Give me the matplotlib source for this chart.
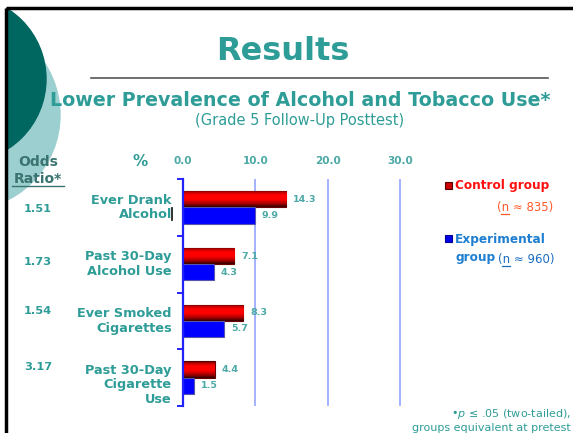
import numpy as np
import matplotlib.pyplot as plt
from matplotlib.patches import Circle, Rectangle
from matplotlib.colors import LinearSegmentedColormap

W, H = 573, 433

categories = ["Ever Drank\nAlcohol", "Past 30-Day\nAlcohol Use",
              "Ever Smoked\nCigarettes", "Past 30-Day\nCigarette\nUse"]
control = [14.3, 7.1, 8.3, 4.4]
experimental = [9.9, 4.3, 5.7, 1.5]
odds_ratio = ["1.51", "1.73", "1.54", "3.17"]
x_ticks = [0, 10, 20, 30]

teal = '#2e9c97'
teal_light = '#4aa8a6'
teal_dark = '#3a7470'


def fx(x):
    return x / W


def fy(y):
    return 1 - y / H


fig = plt.figure(figsize=(W / 100, H / 100), dpi=100)
fig.patch.set_facecolor('white')

# slide background decoration
bg = fig.add_axes([0, 0, 1, 1])
bg.set_xlim(0, W)
bg.set_ylim(H, 0)
bg.axis('off')
clip = Rectangle((6, 8), W, H, transform=bg.transData, visible=False)
bg.add_patch(clip)
c2 = Circle((-35, 115), 95, color='#9ccfcf', zorder=1)
c1 = Circle((-37, 79), 83, color='#006660', zorder=2)
for c in (c2, c1):
    bg.add_patch(c)
    c.set_clip_path(clip)
bg.plot([6, W], [8, 8], color='black', lw=2.5, zorder=5, solid_capstyle='butt')
bg.plot([6, 6], [8, H], color='black', lw=2.5, zorder=5, solid_capstyle='butt')
bg.plot([91, 548], [78, 78], color='#555555', lw=1.2, zorder=5)

fig.text(fx(283), fy(51), "Results", color=teal, fontsize=23, fontweight='bold',
         ha='center', va='center')
fig.text(fx(300), fy(101), "Lower Prevalence of Alcohol and Tobacco Use*", color=teal,
         fontsize=13.7, fontweight='bold', ha='center', va='center', zorder=10)
fig.text(fx(300), fy(121), "(Grade 5 Follow-Up Posttest)", color=teal,
         fontsize=10.5, ha='center', va='center')

# chart
ppu = 7.23
x0, top, bot = 183, 179, 406
xmax = 35
ax = fig.add_axes([fx(x0), fy(bot), xmax * ppu / W, (bot - top) / H])
ax.set_facecolor('none')
ax.set_xlim(0, xmax)
ax.set_ylim(len(categories) - 0.5, -0.5)

ypos = np.arange(len(categories))
bh = 0.285
red_bars = ax.barh(ypos - bh / 2, control, height=bh, color='#ff0000',
                   edgecolor='#6b0000', lw=0.8, zorder=3)
blue_bars = ax.barh(ypos + bh / 2, experimental, height=bh, color='#0000ff',
                    edgecolor='#5555aa', lw=0.8, zorder=3)

cmap = LinearSegmentedColormap.from_list('redbar', [
    (0.0, '#3a0000'), (0.12, '#c00000'), (0.3, '#ff0000'), (0.55, '#ff0000'),
    (0.8, '#a80000'), (1.0, '#300000')])
grad = np.linspace(0, 1, 64).reshape(-1, 1)
for p in red_bars:
    x, y = p.get_x(), p.get_y()
    w, h = p.get_width(), p.get_height()
    im = ax.imshow(grad, cmap=cmap, aspect='auto', extent=(x, x + w, y + h, y),
                   zorder=3.5, interpolation='bilinear')
    im.set_clip_path(p)

for bars, vals in ((red_bars, control), (blue_bars, experimental)):
    for p, v in zip(bars, vals):
        ax.annotate(f"{v:.1f}", (v, p.get_y() + p.get_height() / 2),
                    xytext=(5, 0), textcoords='offset points', va='center', ha='left',
                    color=teal_light, fontsize=6.8, fontweight='bold', zorder=6)

ax.set_ylim(len(categories) - 0.5, -0.5)
ax.set_xlim(0, xmax)

for s in ('top', 'right', 'bottom'):
    ax.spines[s].set_visible(False)
ax.spines['left'].set_color('#2222ff')
ax.spines['left'].set_linewidth(1.6)
ax.spines['left'].set_zorder(5)

ax.set_yticks(np.arange(len(categories) + 1) - 0.5)
ax.set_yticklabels([])
ax.tick_params(axis='y', direction='out', length=4, width=1.4, color='#2222ff')

ax.set_xticks(x_ticks)
ax.set_xticklabels([f"{t:.1f}" for t in x_ticks])
ax.xaxis.tick_top()
ax.tick_params(axis='x', length=0, pad=9, labelsize=7.5, labelcolor=teal_light)
for lab in ax.get_xticklabels():
    lab.set_fontweight('bold')
for t in x_ticks[1:]:
    ax.axvline(t, color='#95a5ff', lw=1.2, zorder=1)

# category labels, top-anchored in each band
for i, name in enumerate(categories):
    ax.annotate(name, (0, i - 0.5), xycoords=('axes fraction', 'data'),
                xytext=(-8, -10.5), textcoords='offset points', ha='right', va='top',
                color=teal, fontsize=9.3, fontweight='bold', linespacing=1.15)
# stray cursor mark next to "Alcohol"
bg.plot([171.5, 171.5], [208, 220], color='#222222', lw=1.3, zorder=6)

odds_dy = [0.03, -0.04, -0.17, -0.19]
for i, (o, d) in enumerate(zip(odds_ratio, odds_dy)):
    ax.annotate(o, (fx(38), i + d), xycoords=('figure fraction', 'data'),
                ha='center', va='center', color=teal, fontsize=8.2, fontweight='bold')

fig.text(fx(38), fy(162), "Odds", color=teal_dark, fontsize=10, fontweight='bold',
         ha='center', va='center', zorder=10)
fig.text(fx(38), fy(179), "Ratio*", color=teal_dark, fontsize=10, fontweight='bold',
         ha='center', va='center', zorder=10)
bg.plot([12, 64], [186, 186], color=teal_dark, lw=1.0, zorder=10)
fig.text(fx(140), fy(162), "%", color=teal, fontsize=11, fontweight='bold',
         ha='center', va='center')

# legend
renderer = fig.canvas.get_renderer()


def n_label(xr, y, rest, color):
    t = fig.text(fx(xr), fy(y), "(n" + rest, color=color, fontsize=8.5,
                 ha='right', va='center')
    full = t.get_window_extent(renderer)
    probe = fig.text(0, 0, "(", fontsize=8.5)
    w1 = probe.get_window_extent(renderer).width
    probe.set_text("(n")
    w2 = probe.get_window_extent(renderer).width
    probe.remove()
    xa = full.x0 + w1
    xb = full.x0 + w2
    yb = H - full.y0 - 1
    bg.plot([xa, xb], [yb, yb], color=color, lw=0.9, zorder=6)


bg.add_patch(Rectangle((445, 182), 7, 7, facecolor='#cc0000', edgecolor='#550000', lw=0.8, zorder=6))
fig.text(fx(455), fy(186), "Control group", color='#ff1010', fontsize=8.7,
         fontweight='bold', ha='left', va='center')
n_label(553, 208, " ≈ 835)", '#ff5a2a')
bg.add_patch(Rectangle((445, 235), 7, 7, facecolor='#0000ee', edgecolor='#000088', lw=0.8, zorder=6))
fig.text(fx(455), fy(239), "Experimental", color='#1e7fd0', fontsize=8.7,
         fontweight='bold', ha='left', va='center')
fig.text(fx(455), fy(257), "group", color='#1e7fd0', fontsize=8.7,
         fontweight='bold', ha='left', va='center')
n_label(554, 260, " ≈ 960)", '#1a6cc0')

# footnote
fig.text(fx(571), fy(414), r"•$\it{p}$ ≤ .05 (two-tailed),", color=teal, fontsize=8,
         ha='right', va='center')
fig.text(fx(571), fy(428), "groups equivalent at pretest", color=teal, fontsize=8,
         ha='right', va='center')

fig.savefig('out.png', dpi=100)
